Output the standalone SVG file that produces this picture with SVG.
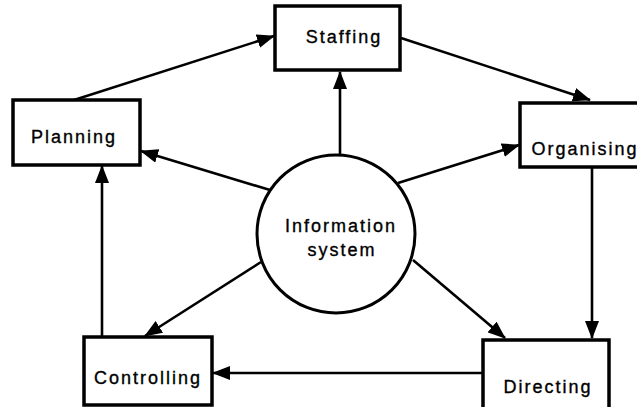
<svg xmlns="http://www.w3.org/2000/svg" width="637" height="407" viewBox="0 0 637 407">
  <style>
    .box { fill: #ffffff; stroke: #000000; stroke-width: 3.5; }
    .hub { fill: #ffffff; stroke: #000000; stroke-width: 3; }
    .lbl { font-family: "Liberation Sans", Arial, sans-serif; font-size: 18px; letter-spacing: 2px; fill: #000000; stroke: #000000; stroke-width: 0.35; text-anchor: middle; }
    .edge { fill: none; stroke: #000000; stroke-width: 2.6; marker-end: url(#head); }
  </style>
  <defs>
    <marker id="head" markerUnits="userSpaceOnUse" markerWidth="18" markerHeight="14" refX="17" refY="7" orient="auto">
      <path d="M0,0 L18,7 L0,14 Z" fill="#000000"/>
    </marker>
  </defs>
  <rect width="637" height="407" fill="#ffffff"/>

  <g id="connectors">
    <line class="edge" x1="74" y1="100" x2="274" y2="36"/>
    <line class="edge" x1="401" y1="38" x2="590" y2="100"/>
    <line class="edge" x1="270" y1="190" x2="141" y2="151"/>
    <line class="edge" x1="340" y1="157" x2="340" y2="72"/>
    <line class="edge" x1="398" y1="183" x2="519" y2="145"/>
    <line class="edge" x1="592" y1="168" x2="592" y2="338"/>
    <line class="edge" x1="413" y1="260" x2="505" y2="338"/>
    <line class="edge" x1="261" y1="262" x2="145" y2="336"/>
    <line class="edge" x1="483" y1="373" x2="213" y2="373"/>
    <line class="edge" x1="102" y1="337" x2="102" y2="166"/>
  </g>

  <g id="information-system">
    <circle class="hub" cx="336" cy="234" r="79"/>
    <text class="lbl" x="341" y="232">Information</text>
    <text class="lbl" x="342" y="256">system</text>
  </g>

  <g id="staffing">
    <rect class="box" x="275" y="6" width="125" height="64"/>
    <text class="lbl" x="344" y="43">Staffing</text>
  </g>

  <g id="planning">
    <rect class="box" x="13" y="100" width="127" height="65"/>
    <text class="lbl" x="74" y="143">Planning</text>
  </g>

  <g id="organising">
    <rect class="box" x="520" y="103" width="130" height="64"/>
    <text class="lbl" x="585" y="155">Organising</text>
  </g>

  <g id="controlling">
    <rect class="box" x="84" y="337" width="128" height="68"/>
    <text class="lbl" x="148" y="384">Controlling</text>
  </g>

  <g id="directing">
    <rect class="box" x="483" y="340" width="126" height="70"/>
    <text class="lbl" x="548" y="393">Directing</text>
  </g>
</svg>
